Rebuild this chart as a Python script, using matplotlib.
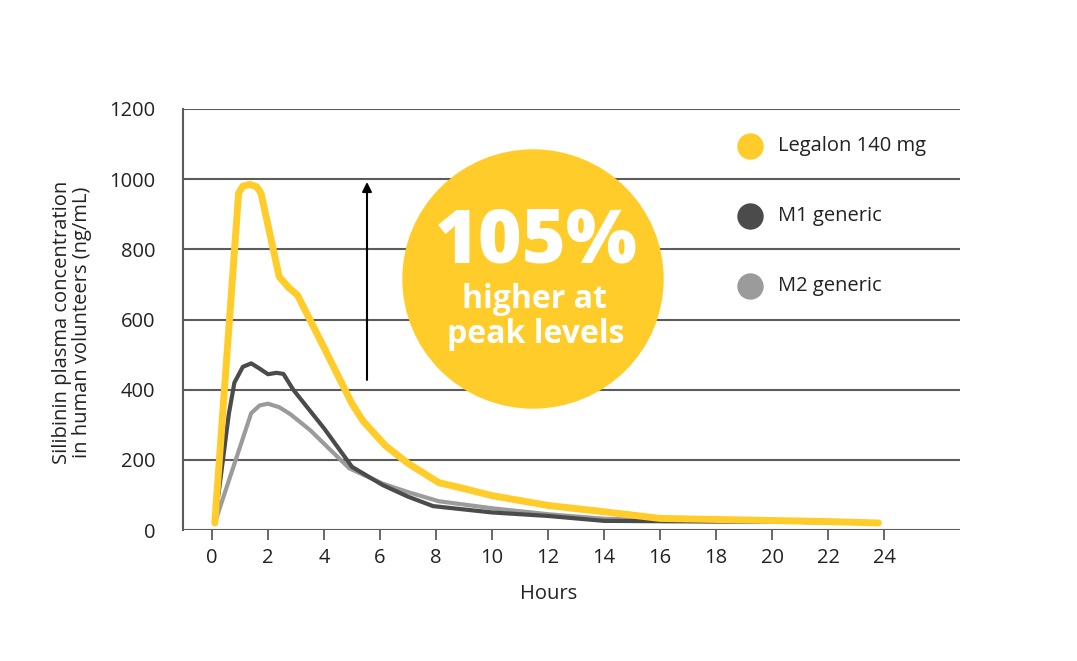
import numpy as np
import matplotlib.pyplot as plt
from matplotlib.patches import Ellipse
from matplotlib.lines import Line2D

plt.rcParams['font.family'] = ['Open Sans', 'DejaVu Sans']

# data (hours, ng/mL)
legalon_t = [0.1, 0.95, 1.1, 1.35, 1.6, 1.75, 2.4, 2.75, 3.05, 4.0, 5.0, 5.4, 6.2, 7.0, 8.1, 9.0, 10.0, 12.0, 14.0, 16.0, 18.0, 20.0, 22.0, 23.8]
legalon_c = [20, 960, 980, 985, 978, 960, 722, 690, 670, 520, 360, 310, 240, 190, 135, 118, 98, 70, 52, 33, 30, 27, 24, 20]

m1_t = [0.1, 0.6, 0.8, 1.1, 1.4, 1.7, 2.0, 2.3, 2.55, 2.9, 4.0, 5.0, 6.1, 7.0, 7.9, 10.0, 12.0, 14.0, 16.0, 18.0, 20.0, 22.0, 23.8]
m1_c = [20, 330, 420, 465, 475, 460, 444, 448, 445, 400, 290, 180, 128, 95, 68, 50, 40, 26, 25, 24, 24, 22, 20]

m2_t = [0.1, 1.4, 1.7, 2.0, 2.4, 2.8, 3.5, 4.9, 6.1, 7.0, 8.1, 10.0, 12.0, 14.0, 16.0, 18.0, 20.0, 22.0, 23.8]
m2_c = [20, 333, 355, 360, 350, 330, 285, 176, 132, 108, 82, 62, 45, 32, 28, 26, 24, 22, 20]

series_names = ['Legalon 140 mg', 'M1 generic', 'M2 generic']
series_colors = ['#FFCC29', '#4B4B4B', '#9B9B9B']

x_ticks = list(range(0, 25, 2))
y_ticks = list(range(0, 1201, 200))

W, H = 1077, 661
fig = plt.figure(figsize=(W / 100, H / 100), dpi=100)
ax = fig.add_axes([183 / W, 1 - 530 / H, (960 - 183) / W, (530 - 109) / H])

grid_col = '#5C5C5C'
txt_col = '#222222'
fs = 14.5
for y in y_ticks:
    ax.axhline(y, color=grid_col, lw=1.5, zorder=1)

ax.plot(m2_t, m2_c, color=series_colors[2], lw=3.0, solid_joinstyle='round', solid_capstyle='round', zorder=3)
ax.plot(m1_t, m1_c, color=series_colors[1], lw=3.0, solid_joinstyle='round', solid_capstyle='round', zorder=4)
ax.plot(legalon_t, legalon_c, color=series_colors[0], lw=5, solid_joinstyle='round', solid_capstyle='round', zorder=5)

ax.set_xlim((183 - 212) / 28, (960 - 212) / 28)
ax.set_ylim(0, 1200)

for s in ['top', 'right', 'bottom']:
    ax.spines[s].set_visible(False)
ax.spines['left'].set_color(grid_col)
ax.spines['left'].set_linewidth(1.5)

ax.set_xticks(x_ticks)
ax.set_yticks(y_ticks)
ax.tick_params(axis='x', length=7, width=1.3, color=grid_col, pad=6, labelsize=fs, labelcolor=txt_col)
ax.tick_params(axis='y', length=0, pad=20, labelsize=fs, labelcolor=txt_col)

# axis titles
fig.text(549 / W, 1 - 594 / H, 'Hours', ha='center', va='center', fontsize=fs, color=txt_col)
fig.text(72 / W, 1 - 322 / H, 'Silibinin plasma concentration\nin human volunteers (ng/mL)',
         rotation=90, ha='center', va='center', fontsize=fs, color=txt_col, linespacing=1.05)

# arrow
ax.annotate('', xy=((367 - 212) / 28, 1000), xytext=((367 - 212) / 28, 420),
            arrowprops=dict(arrowstyle='-|>', color='black', lw=1.5, mutation_scale=14), zorder=6)

# callout circle
fig.add_artist(Ellipse((533 / W, 1 - 279 / H), 260 / W, 258 / H, transform=fig.transFigure,
                       color='#FFCC29', zorder=10))
fig.text(536 / W, 1 - 243 / H, '105%', ha='center', va='center', color='white',
         fontsize=54, fontweight='heavy', zorder=11)
fig.text(534 / W, 1 - 300 / H, 'higher at', ha='center', va='center', color='white',
         fontsize=23, fontweight='bold', zorder=11)
fig.text(536 / W, 1 - 335 / H, 'peak levels', ha='center', va='center', color='white',
         fontsize=23, fontweight='bold', zorder=11)

# legend
for i, (name, col) in enumerate(zip(series_names, series_colors)):
    yy = 1 - (146 + 70 * i) / H
    fig.add_artist(Line2D([750 / W], [yy], marker='o', markersize=19, color=col,
                          markeredgewidth=0, transform=fig.transFigure))
    fig.text(778 / W, yy, name, ha='left', va='center', fontsize=fs, color=txt_col)

fig.savefig('out.png', dpi=100, facecolor='white')
